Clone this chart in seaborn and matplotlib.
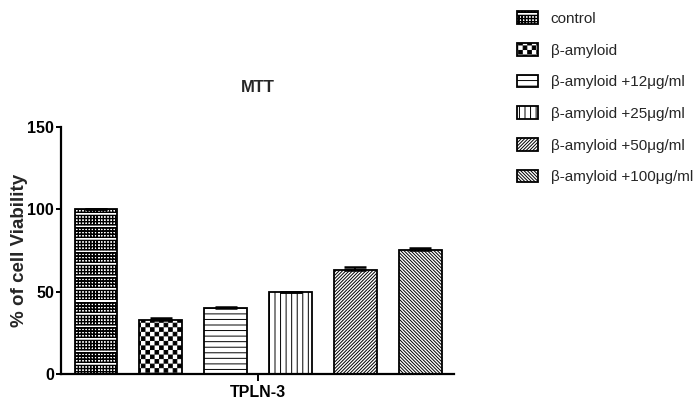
import numpy as np
import pandas as pd
import matplotlib
matplotlib.use("Agg")
import matplotlib.pyplot as plt
import matplotlib.hatch as mhatch
from matplotlib.path import Path
import seaborn as sns

# ---- data -----------------------------------------------------------------
treatments = ["control", "β-amyloid", "β-amyloid +12μg/ml", "β-amyloid +25μg/ml",
              "β-amyloid +50μg/ml", "β-amyloid +100μg/ml"]
viability = [100.0, 32.5, 40.0, 49.5, 63.0, 75.2]
sem = [0.4, 1.8, 0.9, 0.3, 2.0, 1.2]
group_label = "TPLN-3"
yticks = [0, 50, 100, 150]
title = "MTT"
ylabel = "% of cell Viability"

# fill patterns: 'o' = dotted mesh, 'O' = checkerboard
bar_hatches = ["o", "O", "---", "|||", "/" * 10, "\\" * 10]


# ---- extra hatch patterns -------------------------------------------------
SQUARE = [Path.MOVETO, Path.LINETO, Path.LINETO, Path.LINETO, Path.CLOSEPOLY]


def _rect(x0, y0, x1, y1):
    return [(x0, y0), (x1, y0), (x1, y1), (x0, y1), (x0, y0)]


class CheckerHatch(mhatch.HatchPatternBase):
    cells = 22

    def __init__(self, hatch, density):
        n = self.cells
        self.num_vertices = (n * n // 2) * 5 if "O" in hatch else 0

    def set_vertices_and_codes(self, vertices, codes):
        n = self.cells
        s = 1.0 / n
        g = 0.1 * s
        k = 0
        for i in range(n):
            for j in range(n):
                if (i + j) % 2:
                    continue
                vertices[k:k + 5] = _rect(j * s + g, i * s + g, (j + 1) * s - g, (i + 1) * s - g)
                codes[k:k + 5] = SQUARE
                k += 5


class MeshHatch(mhatch.HatchPatternBase):
    cells = 32
    band = 4
    t = 0.004

    def __init__(self, hatch, density):
        n = self.cells
        rows = n - n // self.band
        self.num_vertices = (n + rows * n) * 5 if "o" in hatch else 0

    def set_vertices_and_codes(self, vertices, codes):
        n, t = self.cells, self.t
        s = 1.0 / n
        k = 0
        for r in range(n):
            vertices[k:k + 5] = _rect(0.0, r * s, 1.0, r * s + t)
            codes[k:k + 5] = SQUARE
            k += 5
        for r in range(n):
            if r % self.band == self.band - 1:
                continue
            for c in range(n):
                vertices[k:k + 5] = _rect(c * s, r * s + t, c * s + t, (r + 1) * s)
                codes[k:k + 5] = SQUARE
                k += 5


mhatch._hatch_types = [mhatch.HorizontalHatch, mhatch.VerticalHatch,
                       mhatch.NorthEastHatch, mhatch.SouthEastHatch,
                       MeshHatch, CheckerHatch]

# ---- style ----------------------------------------------------------------
sns.set_theme(style="ticks")
plt.rcParams["font.family"] = ["Liberation Sans Narrow", "Liberation Sans", "DejaVu Sans"]
plt.rcParams["hatch.linewidth"] = 0.7
plt.rcParams["hatch.color"] = "black"

df = pd.DataFrame({"treatment": treatments, "viability": viability})

fig = plt.figure(figsize=(6.96, 4.00), dpi=100)
ax = fig.add_axes([61 / 696, 1 - 374 / 400, 393 / 696, 247 / 400])

sns.barplot(data=df, x="treatment", y="viability", hue="treatment",
            palette=["white"] * len(treatments), edgecolor="black",
            linewidth=1.3, width=0.66, errorbar=None, legend=False, ax=ax,
            saturation=1)

handles = []
for cont, h in zip(ax.containers, bar_hatches):
    for p in cont.patches:
        p.set_hatch(h)
        p.set_facecolor("white")
        handles.append(p)

centers = [p.get_x() + p.get_width() / 2 for p in handles]
ax.errorbar(centers, viability, yerr=[np.zeros(len(sem)), sem], fmt="none",
            ecolor="black", elinewidth=1.3, capsize=8, capthick=1.8, zorder=5)

ax.set_ylim(yticks[0], yticks[-1])
ax.set_yticks(yticks)
ax.set_xlim(-0.54, len(treatments) - 1 + 0.52)
ax.set_xticks([(len(treatments) - 1) / 2])
ax.set_xticklabels([group_label])
ax.set_xlabel("")
ax.set_ylabel(ylabel, fontsize=13.5, fontweight="bold")
ax.yaxis.set_label_coords(-0.085, 0.5)

for side in ["top", "right"]:
    ax.spines[side].set_visible(False)
for side in ["left", "bottom"]:
    ax.spines[side].set_linewidth(1.6)
    ax.spines[side].set_color("black")

ax.tick_params(axis="y", length=3.5, width=1.4, pad=1.5, labelsize=11.5, colors="black")
ax.tick_params(axis="x", length=5, width=1.4, pad=3, labelsize=11.5, colors="black")
for lbl in ax.get_xticklabels() + ax.get_yticklabels():
    lbl.set_fontweight("bold")

ax.set_title(title, fontsize=12, fontweight="bold", pad=25)

fig.legend(handles, treatments, loc="upper left", bbox_to_anchor=(517 / 696, 0.972),
           frameon=False, fontsize=11, borderpad=0, borderaxespad=0,
           handlelength=1.4, handleheight=0.9, handletextpad=0.8, labelspacing=1.12)

fig.savefig("out.png", dpi=100)
